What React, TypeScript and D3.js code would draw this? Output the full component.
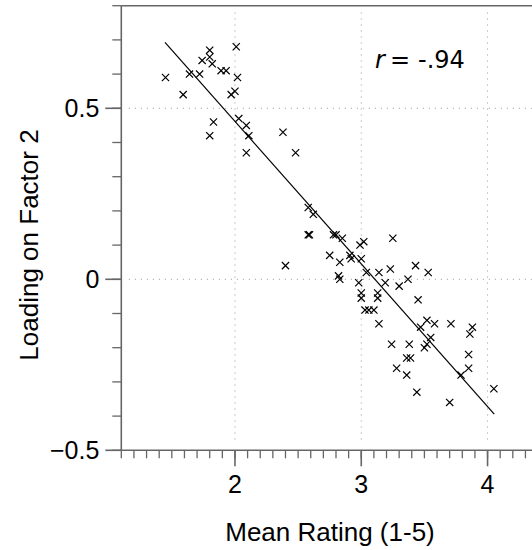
import React from "react";
import { scaleLinear, range } from "d3";

// mean rating (x) and loading on factor 2 (y)
const meanRating = [
  1.45, 1.59, 1.64, 1.72, 1.80, 1.80, 1.74, 1.82, 1.89, 1.93,
  2.01, 2.02, 2.00, 1.97, 1.83, 1.80, 2.03, 2.09, 2.11, 2.09,
  2.38, 2.48, 2.40, 2.58, 2.62, 2.58, 2.59, 2.78, 2.80, 2.85,
  2.99, 3.02, 3.25, 2.75, 2.83, 2.91, 2.92, 3.00, 3.04, 3.14,
  3.23, 2.82, 2.83, 2.98, 3.19, 3.30, 3.37, 3.43, 3.53, 3.00,
  3.00, 3.13, 3.13, 3.03, 3.06, 3.10, 3.14, 3.45, 3.47, 3.24,
  3.38, 3.52, 3.58, 3.71, 3.88, 3.86, 3.55, 3.50, 3.52, 3.36,
  3.39, 3.28, 3.36, 3.44, 3.85, 3.85, 3.79, 4.05, 3.70,
];
const loading = [
  0.59, 0.54, 0.60, 0.60, 0.67, 0.65, 0.64, 0.63, 0.61, 0.61,
  0.68, 0.59, 0.55, 0.54, 0.46, 0.42, 0.47, 0.45, 0.42, 0.37,
  0.43, 0.37, 0.04, 0.21, 0.19, 0.13, 0.13, 0.13, 0.13, 0.12,
  0.10, 0.11, 0.12, 0.07, 0.05, 0.07, 0.06, 0.06, 0.02, 0.02,
  0.03, 0.01, 0.00, -0.01, -0.01, -0.02, 0.00, 0.04, 0.02, -0.04,
  -0.055, -0.04, -0.055, -0.09, -0.09, -0.09, -0.13, -0.06, -0.14, -0.19,
  -0.19, -0.12, -0.13, -0.13, -0.14, -0.16, -0.17, -0.20, -0.19, -0.23,
  -0.23, -0.26, -0.28, -0.33, -0.22, -0.26, -0.28, -0.32, -0.36,
];

// regression line end points
const fitX = [1.446, 4.053];
const fitY = [0.693, -0.394];

const xMajor = [2, 3, 4];
const xMajorLabels = ["2", "3", "4"];
const yMajor = [-0.5, 0, 0.5];
const yMajorLabels = ["\u22120.5", "0", "0.5"];

const App = () => {
  const x = scaleLinear().domain([1.1, 4.5]).range([121.3, 550.7]);
  const y = scaleLinear().domain([-0.5, 0.8]).range([450.3, 5.7]);

  const axisColor = "#666";
  const font = "'Liberation Sans', Arial, sans-serif";

  const xMinor = range(11, 46).map((d) => d / 10);
  const yMinor = range(-5, 9).map((d) => d / 10);

  return (
    <svg
      width={532}
      height={550}
      style={{ position: "absolute", left: 0, top: 0, background: "#fff" }}
      fontFamily={font}
    >
      {/* dotted grid */}
      {xMajor.map((d) => (
        <line
          key={"gx" + d}
          x1={x(d)}
          x2={x(d)}
          y1={y(0.78)}
          y2={y(-0.48)}
          stroke="#999"
          strokeWidth={1}
          strokeDasharray="1,5"
        />
      ))}
      {[0, 0.5].map((d) => (
        <line
          key={"gy" + d}
          x1={x(1.16)}
          x2={532}
          y1={y(d)}
          y2={y(d)}
          stroke="#999"
          strokeWidth={1}
          strokeDasharray="1,5"
        />
      ))}

      {/* frame / axes */}
      <line x1={x(1.1)} x2={532} y1={y(0.8)} y2={y(0.8)} stroke={axisColor} strokeWidth={1.6} />
      <line x1={x(1.1)} x2={x(1.1)} y1={y(0.8)} y2={y(-0.5)} stroke={axisColor} strokeWidth={1.6} />
      <line x1={x(1.1)} x2={532} y1={y(-0.5)} y2={y(-0.5)} stroke={axisColor} strokeWidth={1.6} />

      {/* y ticks */}
      {yMinor.map((d) => (
        <line
          key={"ym" + d}
          x1={x(1.1) - 9}
          x2={x(1.1)}
          y1={y(d)}
          y2={y(d)}
          stroke={axisColor}
          strokeWidth={1.3}
        />
      ))}
      {yMajor.map((d, i) => (
        <g key={"yM" + d}>
          <line x1={x(1.1) - 16} x2={x(1.1)} y1={y(d)} y2={y(d)} stroke={axisColor} strokeWidth={1.6} />
          <text x={x(1.1) - 22} y={y(d) + 9} textAnchor="end" fontSize={25} fill="#000">
            {yMajorLabels[i]}
          </text>
        </g>
      ))}

      {/* x ticks */}
      {xMinor.map((d) => (
        <line
          key={"xm" + d}
          x1={x(d)}
          x2={x(d)}
          y1={y(-0.5)}
          y2={y(-0.5) + 8}
          stroke={axisColor}
          strokeWidth={1.3}
        />
      ))}
      {xMajor.map((d, i) => (
        <g key={"xM" + d}>
          <line x1={x(d)} x2={x(d)} y1={y(-0.5)} y2={y(-0.5) + 16} stroke={axisColor} strokeWidth={1.6} />
          <text x={x(d)} y={493} textAnchor="middle" fontSize={25} fill="#000">
            {xMajorLabels[i]}
          </text>
        </g>
      ))}

      {/* regression line */}
      <line
        x1={x(fitX[0])}
        y1={y(fitY[0])}
        x2={x(fitX[1])}
        y2={y(fitY[1])}
        stroke="#000"
        strokeWidth={1.2}
      />

      {/* points */}
      {meanRating.map((mx, i) => {
        const cx = x(mx);
        const cy = y(loading[i]);
        const s = 3.6;
        return (
          <path
            key={"p" + i}
            d={`M${cx - s},${cy - s}L${cx + s},${cy + s}M${cx - s},${cy + s}L${cx + s},${cy - s}`}
            stroke="#000"
            strokeWidth={1.2}
            fill="none"
          />
        );
      })}

      {/* correlation note */}
      <text y={68} fontSize={24} fill="#000" fontFamily="'DejaVu Sans', sans-serif">
        <tspan x={375} fontStyle="italic">r</tspan>
        <tspan x={390}>=</tspan>
        <tspan x={418}>-.94</tspan>
      </text>

      {/* axis titles */}
      <text x={330} y={541} textAnchor="middle" fontSize={26} fill="#000">
        Mean Rating (1-5)
      </text>
      <text
        transform={`translate(38,${245}) rotate(-90)`}
        textAnchor="middle"
        fontSize={26}
        fill="#000"
      >
        Loading on Factor 2
      </text>
    </svg>
  );
};

export default App;
